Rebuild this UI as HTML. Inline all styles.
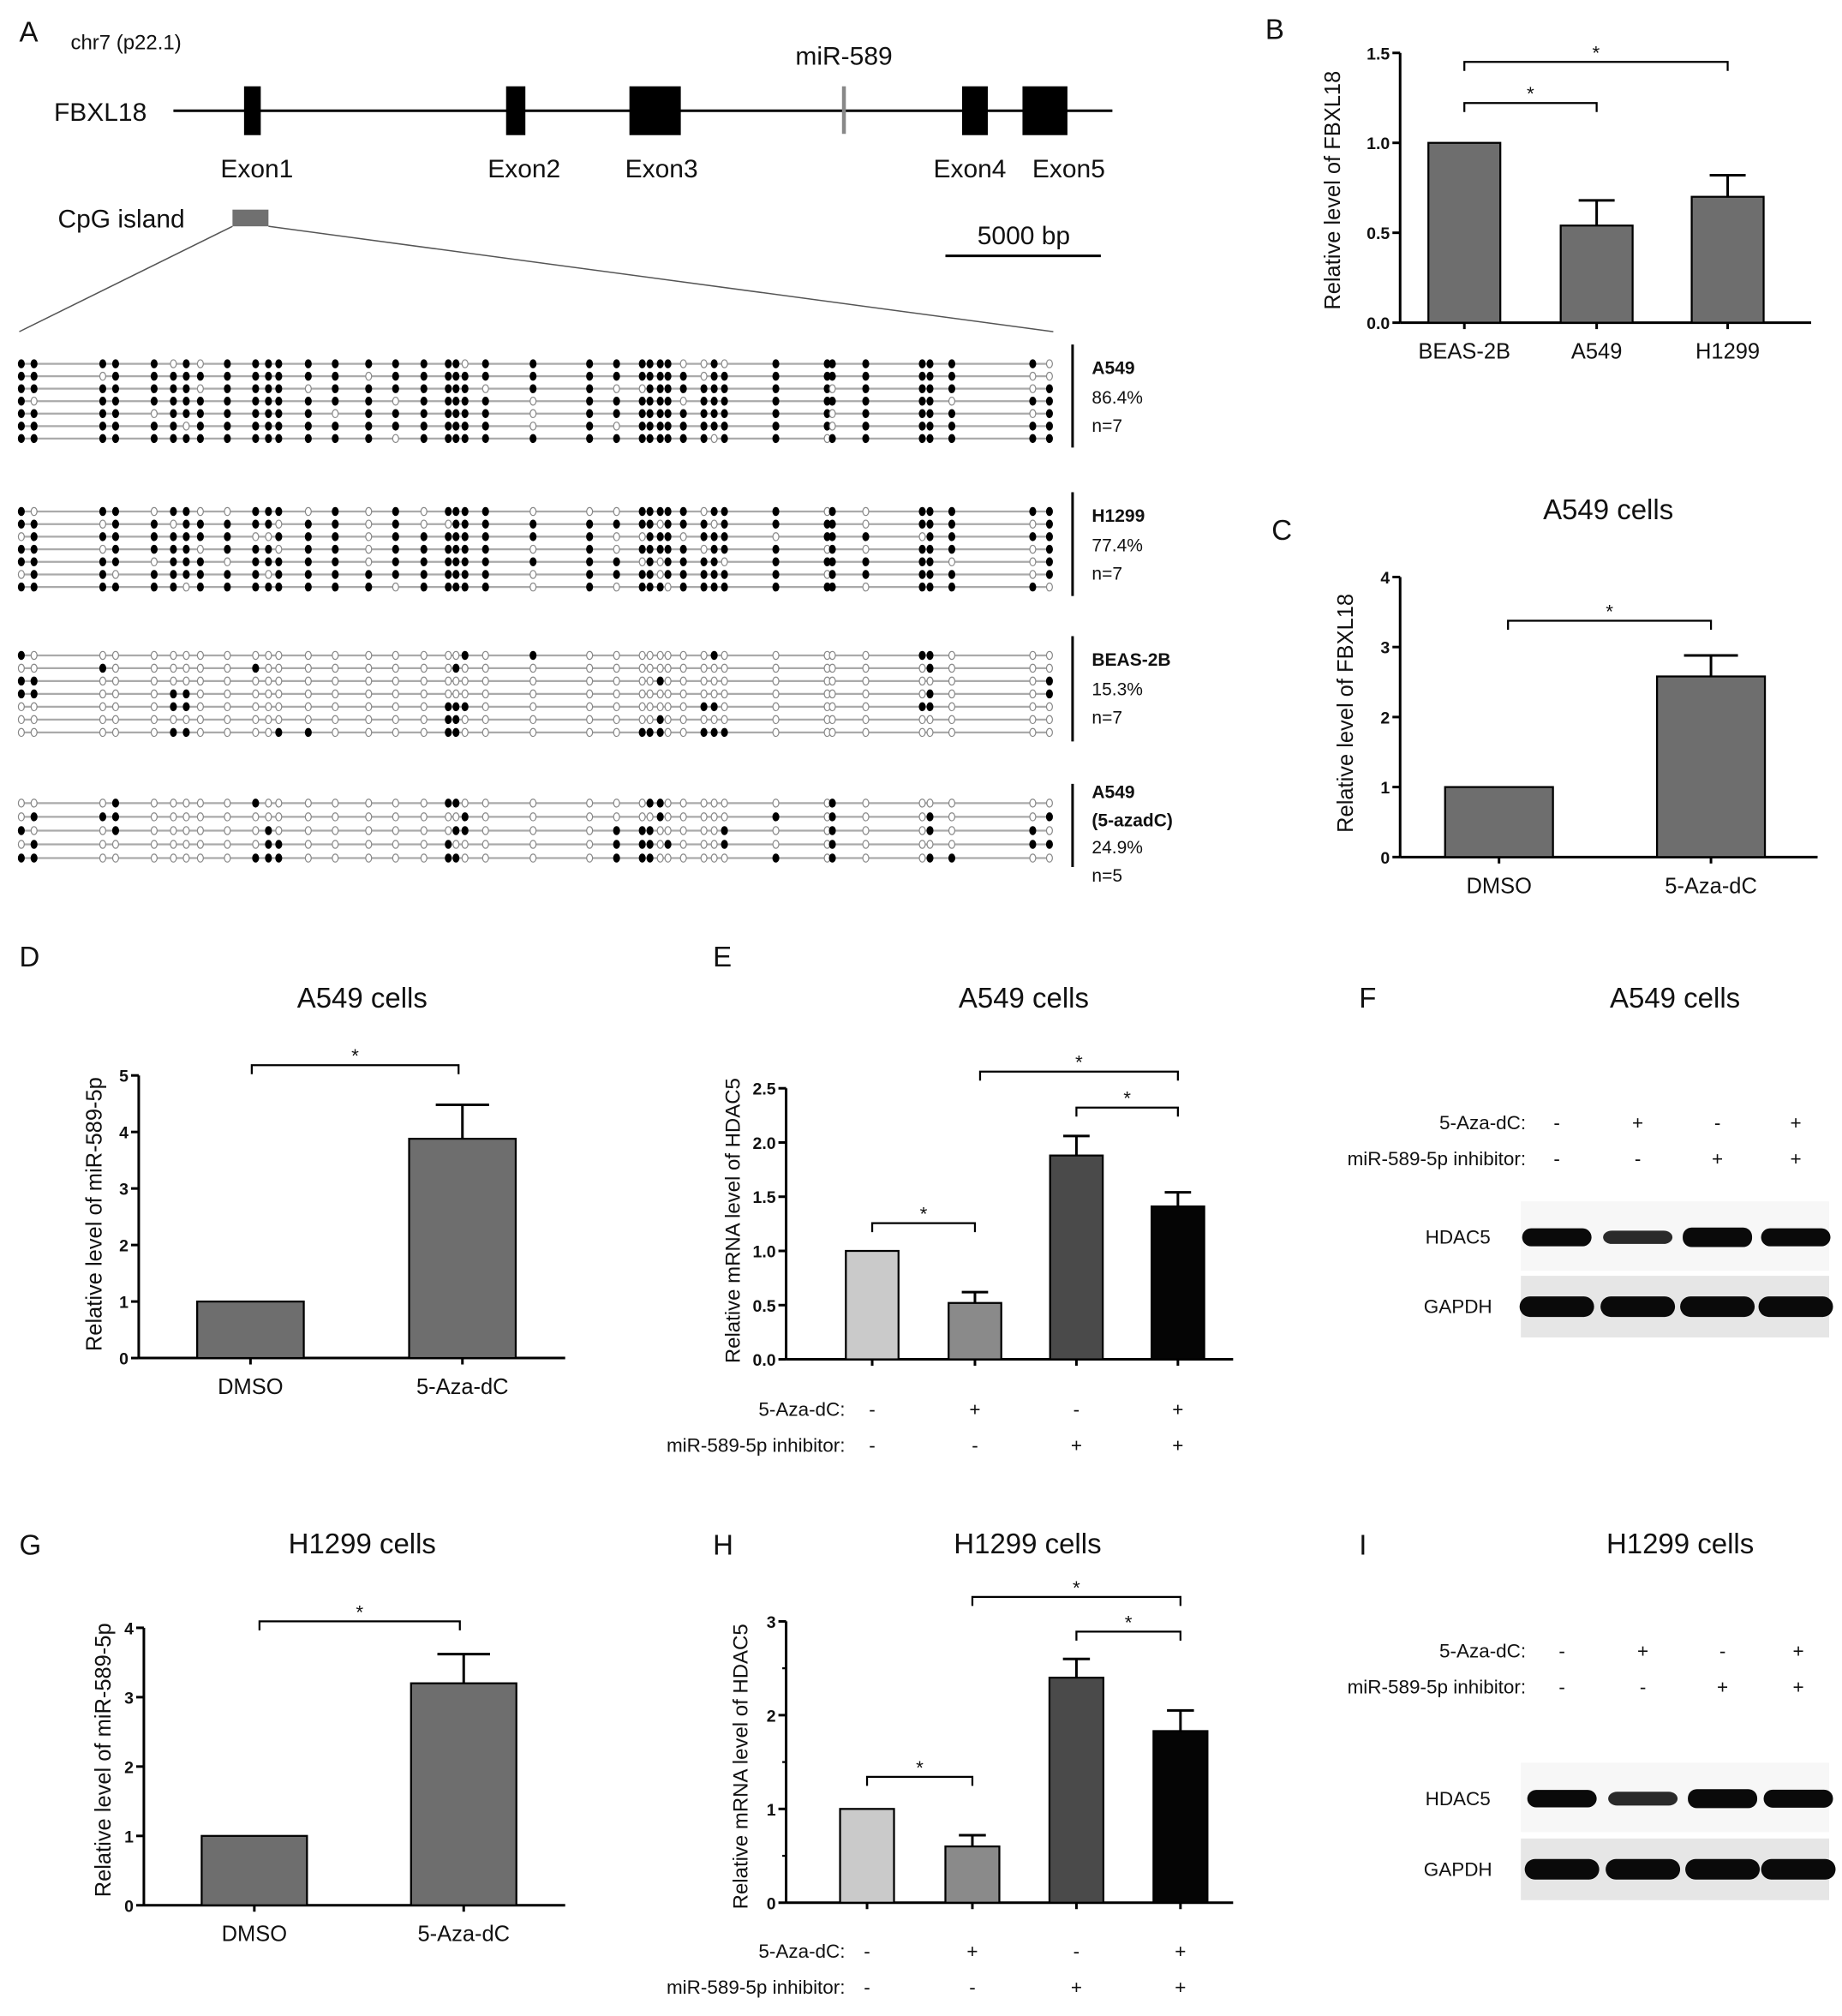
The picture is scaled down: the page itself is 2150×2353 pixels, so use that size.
<!DOCTYPE html>
<html><head><meta charset="utf-8">
<style>
html,body{margin:0;padding:0;background:#fff;}
svg{display:block;}
text{font-family:"Liberation Sans",sans-serif;fill:#111;}
</style></head>
<body>
<svg id="fig" width="2150" height="2353" viewBox="0 0 1434 1569" xmlns="http://www.w3.org/2000/svg">
<g id="panelA">
<text x="15" y="32" font-size="22">A</text>
<text x="55" y="38" font-size="16">chr7 (p22.1)</text>
<text x="42" y="94" font-size="20">FBXL18</text>
<line x1="135" y1="86" x2="866" y2="86" stroke="#000" stroke-width="2"/>
<rect x="190" y="67" width="13" height="38" fill="#000"/>
<rect x="394" y="67" width="15" height="38" fill="#000"/>
<rect x="490" y="67" width="40" height="38" fill="#000"/>
<rect x="749" y="67" width="20" height="38" fill="#000"/>
<rect x="796" y="67" width="35" height="38" fill="#000"/>
<line x1="657" y1="67" x2="657" y2="104" stroke="#888" stroke-width="3"/>
<text x="657" y="50" font-size="20" text-anchor="middle">miR-589</text>
<text x="200" y="138" font-size="20" text-anchor="middle">Exon1</text>
<text x="408" y="138" font-size="20" text-anchor="middle">Exon2</text>
<text x="515" y="138" font-size="20" text-anchor="middle">Exon3</text>
<text x="755" y="138" font-size="20" text-anchor="middle">Exon4</text>
<text x="832" y="138" font-size="20" text-anchor="middle">Exon5</text>
<text x="45" y="177" font-size="20">CpG island</text>
<rect x="181" y="163" width="28" height="13" fill="#707070"/>
<line x1="736" y1="199" x2="857" y2="199" stroke="#000" stroke-width="2"/>
<text x="797" y="190" font-size="20" text-anchor="middle">5000 bp</text>
<line x1="181" y1="176" x2="15" y2="258" stroke="#555" stroke-width="1"/>
<line x1="209" y1="176" x2="820" y2="258" stroke="#555" stroke-width="1"/>
</g>
<g id="meth"></g>
<g id="charts"></g>
</svg>
<script>
// ---------- methylation data ----------
const cpgPos = [16.6,26.5,80,90,120,135,145,156,177,199,209,217,240,261,287,308,330,349,355,362,378,415,459,480,500,506,514,520,532,548,556,564,604,644,648,674,718,724,741,804,817];
const groupNames = ["A549","H1299","BEAS-2B","A549 (5-azadC)"];
const groupPercent = ["86.4%","77.4%","15.3%","24.9%"];
const groupN = ["n=7","n=7","n=7","n=5"];
const a549Rows = [
"11111010111111111110111111110010111111110",
"11011111111111011111111111111011111111100",
"11111110111101111111011001111111110111101",
"10111111111111101111101111110111111111011",
"11110111111110111111101111111111110111101",
"11111101111111111111101011111111110111111",
"11111111111111101111111111111101101111111"];
const h1299Rows = [
"10110110011101010111100011111011101011111",
"11011011111011010011111111011101111011101",
"01111111100111011111111001110111011101111",
"11011110111011011111101011111011101011101",
"11110111011111011111111101011110111111001",
"01101111110111111111101111011111101111101",
"11111101111111101111101011101111111011110"];
const beasRows = [
"10000000000000000001010000000010000011000",
"00100000010000000010000000000000000001000",
"11000000000000000000000000100000000000001",
"11000110000000000000000000000000000001001",
"00000110000000000111000000000110000011000",
"00000000000000000110000000100000000000000",
"00000110000110000110000011100111000000000"];
const azaRows = [
"00010000010000000110000001100000001000000",
"01110000000000000001000000100000101001001",
"10010000001000000011000111000001001001010",
"01000000001100000100000111010001001000011",
"11000000011100000110000111000000101001100"];
const groupRows = [a549Rows,h1299Rows,beasRows,azaRows];
const groupTop = [283,398,510,625];
const groupStep = [9.7,9.8,10,10.7];

const NS="http://www.w3.org/2000/svg";
function mk(tag,attrs,parent,txt){const e=document.createElementNS(NS,tag);for(const k in attrs)e.setAttribute(k,attrs[k]);if(txt!==undefined)e.textContent=txt;parent.appendChild(e);return e;}

const meth=document.getElementById('meth');
groupRows.forEach((rows,g)=>{
  const grp=mk('g',{},meth);
  
  
  rows.forEach((row,r)=>{
    const y=groupTop[g]+r*groupStep[g];
    const ln=mk('line',{x1:cpgPos[0],x2:cpgPos[cpgPos.length-1],y1:y,y2:y,stroke:'#aaa','stroke-width':1.5},grp);
    
    
    for(let i=0;i<cpgPos.length;i++){
      const m=row[i]==='1';
      const c=mk('ellipse',{cx:cpgPos[i],cy:y,rx:2.3,ry:3.1,fill:m?'#000':'#fff',stroke:m?'#000':'#888','stroke-width':0.8},grp);
      
      
    }
  });
  const y0=groupTop[g]-15, y1=groupTop[g]+(rows.length-1)*groupStep[g]+7;
  const bar=mk('line',{x1:835,x2:835,y1:y0,y2:y1,stroke:'#000','stroke-width':2},grp);
  
  
  let ty=groupTop[g]+8;
  if(g===3){
    const t1=mk('text',{x:850,y:621,'font-size':14,'font-weight':'bold'},grp,'A549');
    
    
    const t2=mk('text',{x:850,y:643,'font-size':14,'font-weight':'bold'},grp,'(5-azadC)');
    
    
    ty=664;
  } else {
    const t=mk('text',{x:850,y:ty,'font-size':14,'font-weight':'bold'},grp,groupNames[g]);
    
    
    ty+=23;
  }
  const tp=mk('text',{x:850,y:ty,'font-size':14},grp,groupPercent[g]);
  
  
  const tn=mk('text',{x:850,y:ty+22,'font-size':14},grp,groupN[g]);
  
  
});

// ---------- bar chart data ----------
const bCats=["BEAS-2B","A549","H1299"];
const bVals=[1.0,0.54,0.70];
const bErr=[0,0.14,0.12];
const bTicks=["0.0","0.5","1.0","1.5"];
const cCats=["DMSO","5-Aza-dC"];
const cVals=[1.0,2.58];
const cErr=[0,0.30];
const cTicks=["0","1","2","3","4"];
const dVals=[1.0,3.88];
const dErr=[0,0.60];
const dTicks=["0","1","2","3","4","5"];
const eVals=[1.0,0.52,1.88,1.41];
const eErr=[0,0.10,0.18,0.13];
const eTicks=["0.0","0.5","1.0","1.5","2.0","2.5"];
const gVals=[1.0,3.2];
const gErr=[0,0.42];
const gTicks=["0","1","2","3","4"];
const hVals=[1.0,0.6,2.4,1.83];
const hErr=[0,0.12,0.2,0.22];
const hTicks=["0","1","2","3"];
const azaSigns=["-","+","-","+"];
const inhSigns=["-","-","+","+"];

const charts=document.getElementById('charts');
function chart(o){
  const g=mk('g',{},charts);
  
  
  const ticks=o.ticks.map(Number);
  const tmax=ticks[ticks.length-1];
  const Y=v=>o.y0-(v/tmax)*(o.y0-o.yTop);
  const ax=mk('line',{x1:o.x0,x2:o.x0,y1:o.yTop,y2:o.y0,stroke:'#000','stroke-width':2},g);
  
  
  const xa=mk('line',{x1:o.x0,x2:o.x1,y1:o.y0,y2:o.y0,stroke:'#000','stroke-width':2},g);
  
  
  o.ticks.forEach((t,i)=>{
    const y=Y(ticks[i]);
    const tk=mk('line',{x1:o.x0-6,x2:o.x0,y1:y,y2:y,stroke:'#000','stroke-width':2},g);
    
    
    const tl=mk('text',{x:o.x0-8,y:y+5,'font-size':13,'font-weight':'bold','text-anchor':'end'},g,t);
    
    
  });
  if(o.minor){
    for(let i=0;i<ticks.length-1;i++){
      const y=Y((ticks[i]+ticks[i+1])/2);
      const mt=mk('line',{x1:o.x0-3,x2:o.x0,y1:y,y2:y,stroke:'#000','stroke-width':1.5},g);
      
      
    }
  }
  o.vals.forEach((v,i)=>{
    const cx=o.centers[i];
    const top=Y(v);
    const r=mk('rect',{x:cx-o.bw/2,y:top,width:o.bw,height:o.y0-top,fill:o.colors[i],stroke:'#000','stroke-width':1.5},g);
    
    
    if(o.err[i]>0){
      const ey=Y(v+o.err[i]);
      const el=mk('line',{x1:cx,x2:cx,y1:top,y2:ey,stroke:'#000','stroke-width':2},g);
      
      
      const ec=mk('line',{x1:cx-o.bw/4,x2:cx+o.bw/4,y1:ey,y2:ey,stroke:'#000','stroke-width':2},g);
      
      
    }
    const xt=mk('line',{x1:cx,x2:cx,y1:o.y0,y2:o.y0+5,stroke:'#000','stroke-width':2},g);
    
    
    if(o.cats){
      const xl=mk('text',{x:cx,y:o.y0+28,'font-size':17,'text-anchor':'middle'},g,o.cats[i]);
      
      
    }
  });
  (o.sig||[]).forEach(s=>{
    const p=mk('path',{d:`M${s[0]},${s[2]+7} V${s[2]} H${s[1]} V${s[2]+7}`,fill:'none',stroke:'#000','stroke-width':1.5},g);
    
    
    const st=mk('text',{x:(s[0]+s[1])/2,y:s[2]-2,'font-size':15,'text-anchor':'middle'},g,'*');
    
    
  });
  const yt=mk('text',{x:o.ytx,y:o.yty,'font-size':o.ytfs||17,'text-anchor':'middle',transform:`rotate(-90 ${o.ytx} ${o.yty})`},g,o.ytitle);
  
  
  if(o.title){
    const tt=mk('text',{x:o.title[1],y:o.title[2],'font-size':22,'text-anchor':'middle'},g,o.title[0]);
    
    
  }
  const pl=mk('text',{x:o.label[1],y:o.label[2],'font-size':22},g,o.label[0]);
  
  
  if(o.signs){
    signRows(g,o.signs.x,o.centers,o.signs.y);
  }
}
function signRows(g,xr,centers,ys){
  const l1=mk('text',{x:xr,y:ys[0],'font-size':15,'text-anchor':'end'},g,'5-Aza-dC:');
  
  
  const l2=mk('text',{x:xr,y:ys[1],'font-size':15,'text-anchor':'end'},g,'miR-589-5p inhibitor:');
  
  
  centers.forEach((cx,i)=>{
    const a=mk('text',{x:cx,y:ys[0],'font-size':15,'text-anchor':'middle'},g,azaSigns[i]);
    
    
    const b=mk('text',{x:cx,y:ys[1],'font-size':15,'text-anchor':'middle'},g,inhSigns[i]);
    
    
  });
}
const GR='#6e6e6e';
const E4=['#cacaca','#8a8a8a','#4a4a4a','#050505'];
chart({name:'panel-b-chart',x0:1090,x1:1410,y0:251,yTop:41,ticks:bTicks,minor:false,vals:bVals,err:bErr,centers:[1140,1243,1345],bw:56,colors:[GR,GR,GR],cats:bCats,
  sig:[[1140,1243,80],[1140,1345,48]],ytitle:'Relative level of FBXL18',ytx:1043,yty:148,label:['B',985,30]});
chart({name:'panel-c-chart',x0:1090,x1:1415,y0:667,yTop:449,ticks:cTicks,vals:cVals,err:cErr,centers:[1167,1332],bw:84,colors:[GR,GR],cats:cCats,
  sig:[[1174,1332,483]],ytitle:'Relative level of FBXL18',ytx:1053,yty:555,title:['A549 cells',1252,404],label:['C',990,420]});
chart({name:'panel-d-chart',x0:108,x1:440,y0:1057,yTop:837,ticks:dTicks,vals:dVals,err:dErr,centers:[195,360],bw:83,colors:[GR,GR],cats:cCats,
  sig:[[196,357,829]],ytitle:'Relative level of miR-589-5p',ytx:79,yty:945,title:['A549 cells',282,784],label:['D',15,752]});
chart({name:'panel-e-chart',x0:612,x1:960,y0:1058,yTop:847,ticks:eTicks,vals:eVals,err:eErr,centers:[679,759,838,917],bw:41,colors:E4,
  sig:[[679,759,952],[763,917,834],[838,917,862]],ytitle:'Relative mRNA level of HDAC5',ytx:576,ytfs:16,yty:950,title:['A549 cells',797,784],label:['E',555,752],
  signs:{x:658,y:[1102,1130]}});
chart({name:'panel-g-chart',x0:112,x1:440,y0:1483,yTop:1267,ticks:gTicks,vals:gVals,err:gErr,centers:[198,361],bw:82,colors:[GR,GR],cats:cCats,
  sig:[[202,358,1262]],ytitle:'Relative level of miR-589-5p',ytx:86,yty:1370,title:['H1299 cells',282,1209],label:['G',15,1210]});
chart({name:'panel-h-chart',x0:612,x1:960,y0:1481,yTop:1262,ticks:hTicks,minor:true,vals:hVals,err:hErr,centers:[675,757,838,919],bw:42,colors:E4,
  sig:[[675,757,1383],[757,919,1243],[838,919,1270]],ytitle:'Relative mRNA level of HDAC5',ytx:582,ytfs:16,yty:1375,title:['H1299 cells',800,1209],label:['H',555,1210],
  signs:{x:658,y:[1524,1552]}});

// western blots
const blotF=[1.0,0.55,1.15,1.0];
const blotI=[0.95,0.6,1.1,1.0];
function blot(name,label,title,lanes,ys,hdY,gY,hd,labX){
  const g=mk('g',{},charts);
  
  
  const pl=mk('text',{x:label[1],y:label[2],'font-size':22},g,label[0]);
  
  
  const tt=mk('text',{x:title[1],y:title[2],'font-size':22,'text-anchor':'middle'},g,title[0]);
  
  
  signRows(g,1188,lanes,ys);
  const hb=mk('rect',{x:1184,y:hdY-28,width:240,height:54,fill:'#f7f7f7'},g);
  
  
  const bg=mk('rect',{x:1184,y:gY-24,width:240,height:48,fill:'#e6e6e6'},g);
  
  
  lanes.forEach((cx,i)=>{
    const h=mk('rect',{x:cx-27,y:hdY-(3+4*hd[i]),width:54,height:2*(3+4*hd[i]),rx:7,fill:hd[i]<0.7?'#2a2a2a':'#0a0a0a'},g);
    
    
    const gp=mk('rect',{x:cx-29,y:gY-8,width:58,height:16,rx:8,fill:'#0a0a0a'},g);
    
    
  });
  const l1=mk('text',{x:labX,y:hdY+5,'font-size':15,'text-anchor':'middle'},g,'HDAC5');
  
  
  const l2=mk('text',{x:labX,y:gY+5,'font-size':15,'text-anchor':'middle'},g,'GAPDH');
  
  
}
blot('panel-f-blot',['F',1058,784],['A549 cells',1304,784],[1212,1275,1337,1398],[879,907],963,1017,blotF,1135);
blot('panel-i-blot',['I',1058,1210],['H1299 cells',1308,1209],[1216,1279,1341,1400],[1290,1318],1400,1455,blotI,1135);
</script>
</body></html>
